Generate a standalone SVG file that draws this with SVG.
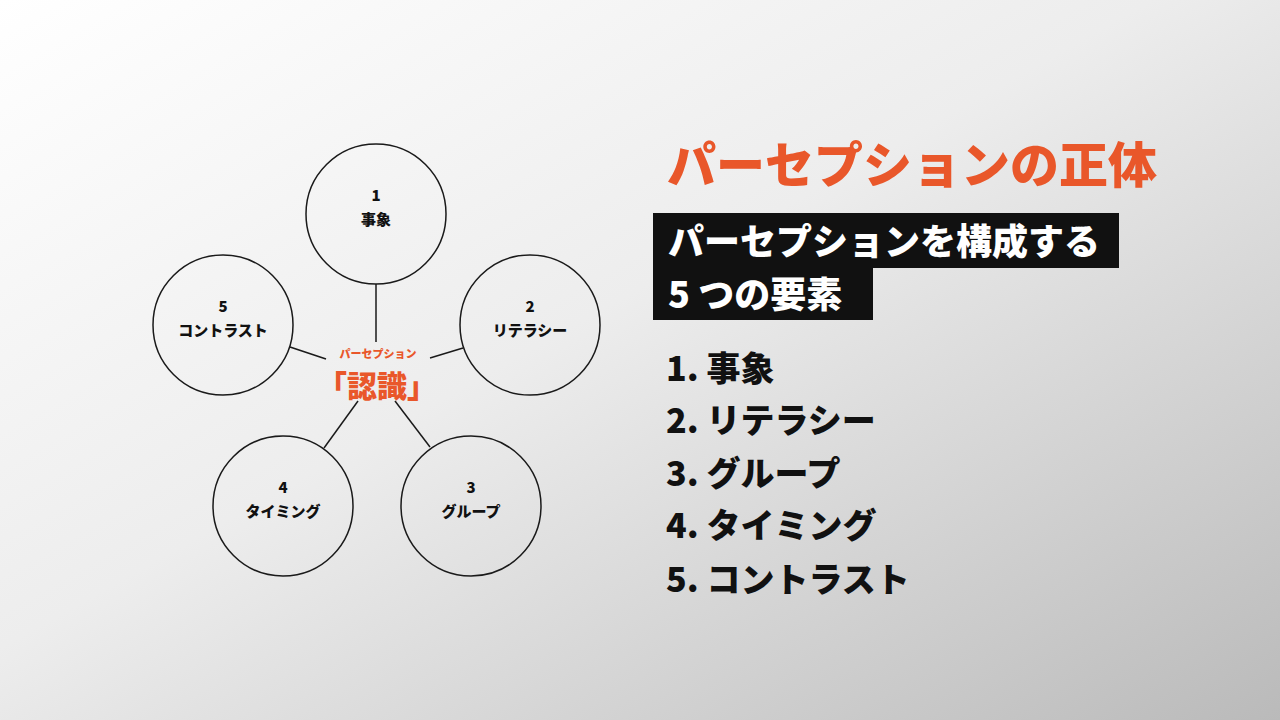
<svg xmlns="http://www.w3.org/2000/svg" width="1280" height="720" viewBox="0 0 1280 720">
<defs>
<linearGradient id="bg" x1="0" y1="0" x2="1" y2="1">
<stop offset="0" stop-color="#ffffff"/>
<stop offset="0.45" stop-color="#ededed"/>
<stop offset="1" stop-color="#bababa"/>
</linearGradient>
</defs>
<style>
text{font-family:"Noto Sans CJK JP","Noto Sans",sans-serif;font-weight:900}
.node circle{fill:none;stroke:#1a1a1a;stroke-width:1.5}
.nt{font-size:15px;fill:#111;text-anchor:middle}
.edge{stroke:#1a1a1a;stroke-width:1.5}
.org{fill:#e9572a}
.list{font-size:34px;fill:#111}
.wh{fill:#ffffff;font-size:36px}
</style>
<rect width="1280" height="720" fill="url(#bg)"/>
<g id="connectors">
<line class="edge" x1="376" y1="284" x2="376" y2="342"/>
<line class="edge" x1="290" y1="347" x2="326" y2="359"/>
<line class="edge" x1="430" y1="358" x2="463" y2="348"/>
<line class="edge" x1="358" y1="401" x2="324" y2="448"/>
<line class="edge" x1="395" y1="401" x2="430" y2="447"/>
</g>
<g id="node1" class="node"><circle cx="376" cy="214" r="70"/><text class="nt" x="376" y="201">1</text><text class="nt" x="376" y="225">事象</text></g>
<g id="node2" class="node"><circle cx="530" cy="325" r="70"/><text class="nt" x="530" y="312">2</text><text class="nt" x="530" y="336">リテラシー</text></g>
<g id="node3" class="node"><circle cx="471" cy="506" r="70"/><text class="nt" x="471" y="493">3</text><text class="nt" x="471" y="517">グループ</text></g>
<g id="node4" class="node"><circle cx="283" cy="506" r="70"/><text class="nt" x="283" y="493">4</text><text class="nt" x="283" y="517">タイミング</text></g>
<g id="node5" class="node"><circle cx="223" cy="325" r="70"/><text class="nt" x="223" y="312">5</text><text class="nt" x="223" y="336">コントラスト</text></g>
<g id="center">
<text class="org" x="378" y="358" font-size="11" text-anchor="middle">パーセプション</text>
<text class="org" x="377" y="397" font-size="30" text-anchor="middle">「認識」</text>
</g>
<g id="title">
<text class="org" x="667" y="183" font-size="49">パーセプションの正体</text>
</g>
<g id="subtitle">
<rect x="653" y="213" width="466" height="55" fill="#111"/>
<rect x="653" y="266" width="220" height="54" fill="#111"/>
<text class="wh" x="668" y="255">パーセプションを構成する</text>
<text class="wh" x="668" y="308">5 つの要素</text>
</g>
<g id="list">
<text class="list" x="666" y="381">1. 事象</text>
<text class="list" x="666" y="433">2. リテラシー</text>
<text class="list" x="666" y="486">3. グループ</text>
<text class="list" x="666" y="538">4. タイミング</text>
<text class="list" x="666" y="592">5. コントラスト</text>
</g>
</svg>
